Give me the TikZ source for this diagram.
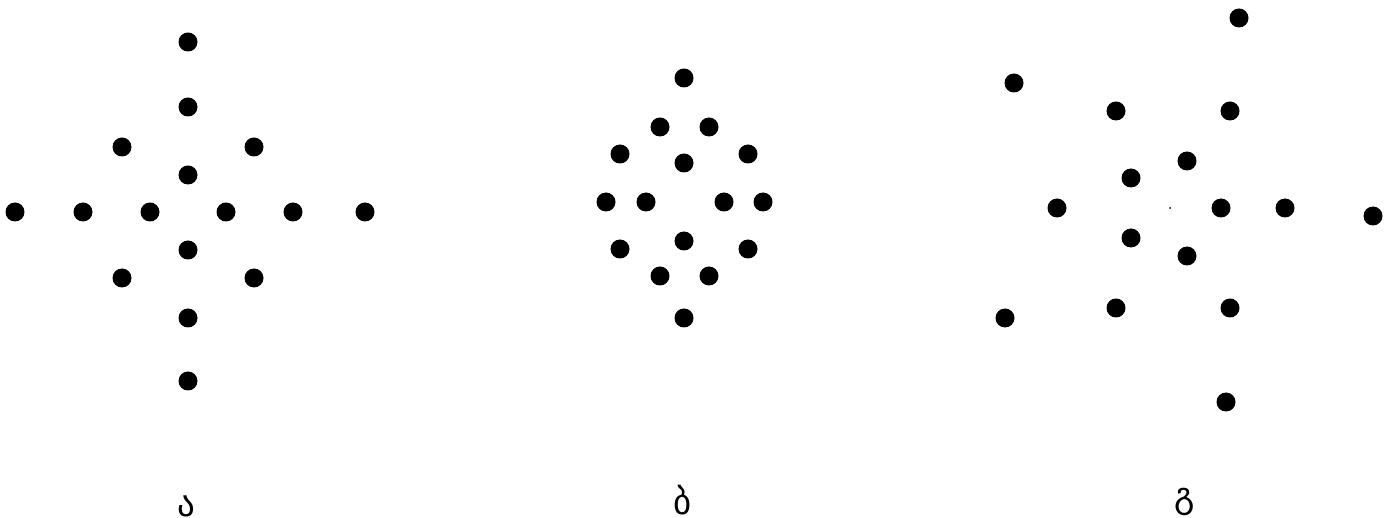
\documentclass[tikz,border=0pt]{standalone}
\usepackage{fontspec}
\newfontfamily\geofont[Script=Georgian]{DejaVu Sans}
\begin{document}
\begin{tikzpicture}[x=1pt,y=-1pt,
  pt/.style={circle,fill=black,inner sep=0pt,minimum size=19pt},
  tiny/.style={circle,fill=black,inner sep=0pt,minimum size=2pt},
  lab/.style={font=\geofont\fontsize{35}{40}\selectfont,inner sep=0pt}]
\useasboundingbox (0,0) rectangle (1390,518);
% figure a
\foreach \x/\y [count=\i] in {188/42,188/107,188/175,188/250,188/318,188/381,
  15/212,83/212,150/212,226/212,293/212,365/212,
  122/147,254/147,122/278,254/278}
  \node[pt] (a\i) at (\x,\y) {};
% figure b
\foreach \x/\y [count=\i] in {684/78,660/127,709/127,620/154,684/163,748/154,
  606/202,646/202,724/202,763/202,620/249,684/241,748/249,660/276,709/276,684/318}
  \node[pt] (b\i) at (\x,\y) {};
% figure c
\foreach \x/\y [count=\i] in {1239/18,1014/83,1116/111,1230/111,1187/161,1131/178,
  1057/208,1221/208,1285/208,1373/216,1131/238,1187/256,1005/318,1116/308,1230/308,1226/402}
  \node[pt] (c\i) at (\x,\y) {};
\node[tiny] (c0) at (1170,208) {};
% labels
\node[lab,anchor=center] (la) at (186,506) {ა};
\node[lab,anchor=center] (lb) at (683,500) {ბ};
\node[lab,anchor=center] (lc) at (1185,502) {გ};
\end{tikzpicture}
\end{document}
